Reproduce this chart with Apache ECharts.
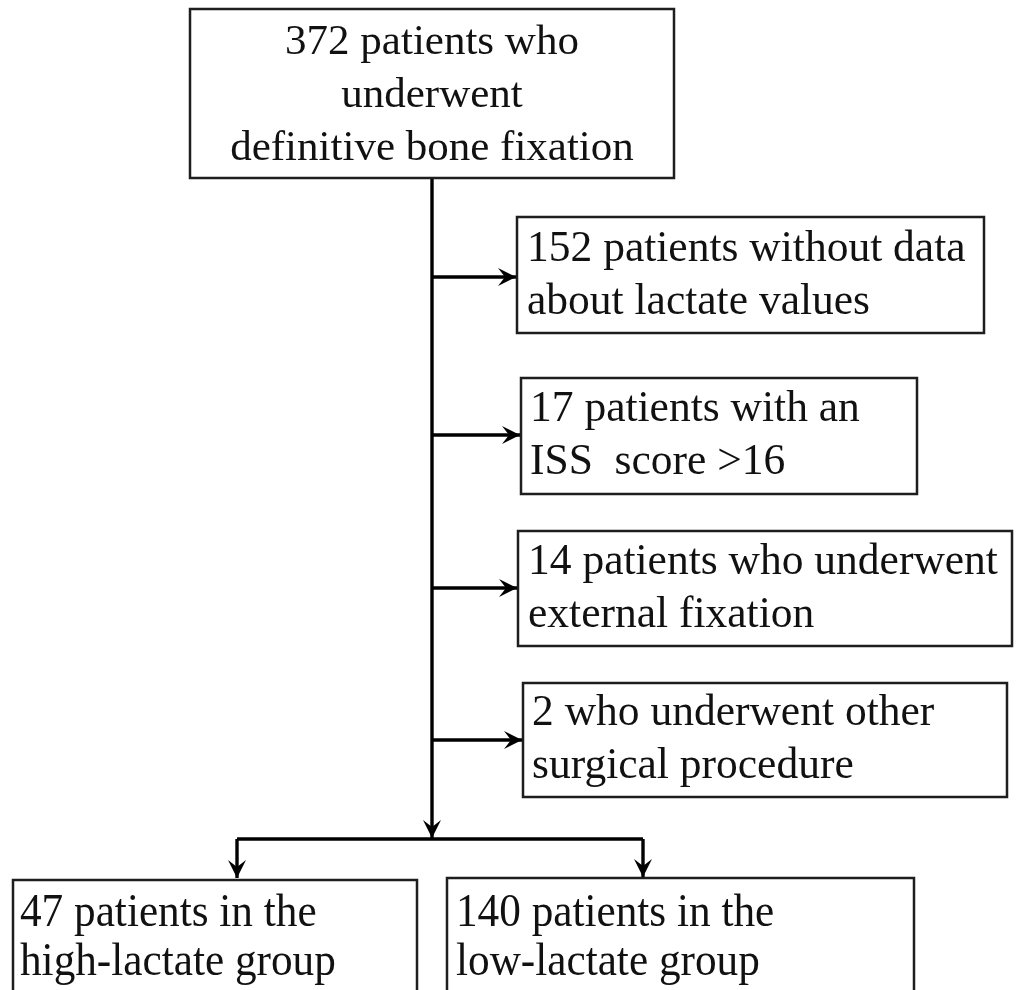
<!DOCTYPE html>
<html><head><meta charset="utf-8">
<script src="https://cdn.jsdelivr.net/npm/echarts@6/dist/echarts.min.js"></script>
<style>html,body{margin:0;padding:0;background:#fff}#c{width:1018px;height:990px}</style>
</head><body><div id="c"></div>
<script>
// ---- Data (flowchart content) ----
const stepCounts = [372, 152, 17, 14, 2, 47, 140];
const stepFirstLine = ['patients who', 'patients without data', 'patients with an', 'patients who underwent', 'who underwent other', 'patients in the', 'patients in the'];
const stepMoreLines = [['underwent', 'definitive bone fixation'], ['about lactate values'], ['ISS  score >16'], ['external fixation'], ['surgical procedure'], ['high-lactate group'], ['low-lactate group']];

// ---- Layout (in pixel-like axis units) ----
const boxRects = [[190,9,484,169],[517,217,467,116],[521,378,396,116],[518,531,494,115],[523,683,484,114],[13,880,404,140],[447,878,467,140]];
const textX = [432, 527, 530, 528, 532, 20, 456];
const textY = [[43,96,149],[250,303],[410,463],[563,616],[714,767],[914,963],[914,963]];
const textAlign = ['center','left','left','left','left','left','left'];
const fontSize = [43, 43.5, 43.5, 43.5, 43.5, 46, 46];
const textScaleX = [1, 1, 1, 1, 1, 0.94, 0.94];
const connectors = [
  [432,178,432,838,1],
  [432,277,516,277,1],[432,435,520,435,1],[432,588,517,588,1],[432,740,522,740,1],
  [237,839,643,839,0],
  [237,839,237,878,1],[643,839,643,877,1]
];

const chart = echarts.init(document.getElementById('c'));
const font = '"Liberation Serif", "Times New Roman", serif';

function renderBox(params, api) {
  const i = api.value(0);
  const r = boxRects[i];
  const p0 = api.coord([r[0], r[1]]);
  const p1 = api.coord([r[0] + r[2], r[1] + r[3]]);
  const lines = [stepCounts[i] + ' ' + stepFirstLine[i]].concat(stepMoreLines[i]);
  const children = [{
    type: 'rect',
    shape: {x: p0[0], y: p0[1], width: p1[0] - p0[0], height: p1[1] - p0[1]},
    style: {fill: '#fff', stroke: '#1e1e1e', lineWidth: 2.5}
  }];
  lines.forEach((t, k) => {
    const p = api.coord([textX[i], textY[i][k]]);
    children.push({
      type: 'text', x: p[0], y: p[1], scaleX: textScaleX[i], originX: 0, originY: 0,
      style: {text: t, fill: '#111', font: fontSize[i] + 'px ' + font, textAlign: textAlign[i], textVerticalAlign: 'middle'}
    });
  });
  return {type: 'group', children};
}

function renderConnector(params, api) {
  const c = connectors[api.value(0)];
  const a = api.coord([c[0], c[1]]);
  const b = api.coord([c[2], c[3]]);
  const children = [{type: 'line', shape: {x1: a[0], y1: a[1], x2: b[0], y2: b[1]}, style: {stroke: '#000', lineWidth: 3.4}}];
  if (c[4]) {
    const dx = b[0] - a[0], dy = b[1] - a[1];
    const len = Math.hypot(dx, dy);
    const ux = dx / len, uy = dy / len, nx = -uy, ny = ux;
    const L = 18, W = 9, N = 11;
    children.push({
      type: 'polygon',
      shape: {points: [
        [b[0], b[1]],
        [b[0] - ux * L + nx * W, b[1] - uy * L + ny * W],
        [b[0] - ux * N, b[1] - uy * N],
        [b[0] - ux * L - nx * W, b[1] - uy * L - ny * W]
      ]},
      style: {fill: '#000'}
    });
  }
  return {type: 'group', children};
}

chart.setOption({
  animation: false,
  backgroundColor: '#fff',
  grid: {left: 0, right: 0, top: 0, bottom: 0},
  xAxis: {type: 'value', min: 0, max: 1018, show: false},
  yAxis: {type: 'value', min: 0, max: 990, inverse: true, show: false},
  series: [
    {type: 'custom', renderItem: renderConnector, data: connectors.map((c, i) => [i]), clip: true, z: 1},
    {type: 'custom', renderItem: renderBox, data: stepCounts.map((c, i) => [i]), clip: true, z: 2}
  ]
});
</script></body></html>
